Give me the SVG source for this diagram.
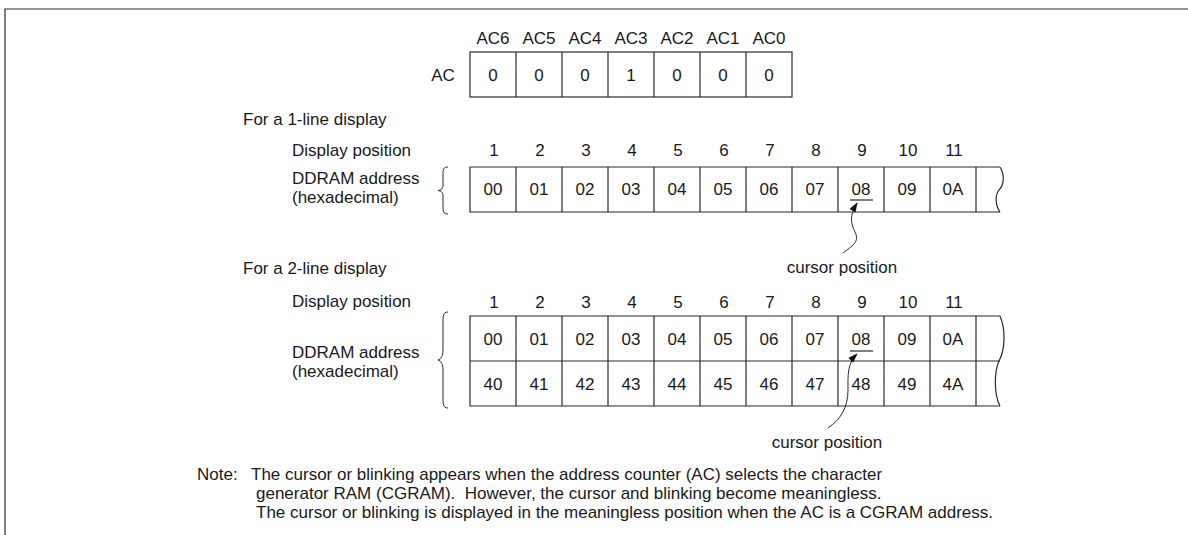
<svg xmlns="http://www.w3.org/2000/svg" width="1188" height="535" viewBox="0 0 1188 535">
<style>
text{font-family:"Liberation Sans",Arial,sans-serif;font-size:17px;fill:#1a1a1a}
.c{text-anchor:middle}
.ln{stroke:#2a2a2a;stroke-width:1.2;fill:none}
.th{stroke:#2a2a2a;stroke-width:1;fill:none}
</style>
<defs>
<marker id="ah" markerUnits="userSpaceOnUse" markerWidth="10" markerHeight="8" refX="9" refY="4" orient="auto">
<path d="M0,0.5 L10,4 L0,7.5 z" fill="#111"/>
</marker>
</defs>
<rect width="1188" height="535" fill="#fff"/>
<g id="frame">
<path class="ln" d="M5,535 V9 H1188"/>
</g>
<g id="ac-register">
<g class="c">
<text x="493" y="44">AC6</text><text x="539" y="44">AC5</text><text x="585" y="44">AC4</text><text x="631" y="44">AC3</text><text x="677" y="44">AC2</text><text x="723" y="44">AC1</text><text x="769" y="44">AC0</text>
<text x="443" y="81">AC</text>
<text x="493" y="81">0</text><text x="539" y="81">0</text><text x="585" y="81">0</text><text x="631" y="81">1</text><text x="677" y="81">0</text><text x="723" y="81">0</text><text x="769" y="81">0</text>
</g>
<rect class="ln" x="470" y="52" width="322" height="45"/>
<path class="ln" d="M516,52V97M562,52V97M608,52V97M654,52V97M700,52V97M746,52V97"/>
</g>
<g id="one-line-labels">
<text x="243" y="125">For a 1-line display</text>
<text x="292" y="156">Display position</text>
<text x="292" y="184">DDRAM address</text>
<text x="292" y="203">(hexadecimal)</text>
<path class="th" d="M448,167 C443,167 443,170 443,175 L443,185 C443,189 441,190 438,190.5 C441,191 443,192 443,196 L443,206 C443,211 443,214 448,214"/>
</g>
<g id="one-line-table">
<g class="c">
<text x="494" y="156">1</text><text x="540" y="156">2</text><text x="586" y="156">3</text><text x="632" y="156">4</text><text x="678" y="156">5</text><text x="724" y="156">6</text><text x="770" y="156">7</text><text x="816" y="156">8</text><text x="862" y="156">9</text><text x="908" y="156">10</text><text x="954" y="156">11</text>
<text x="493" y="195">00</text><text x="539" y="195">01</text><text x="585" y="195">02</text><text x="631" y="195">03</text><text x="677" y="195">04</text><text x="723" y="195">05</text><text x="769" y="195">06</text><text x="815" y="195">07</text><text x="861" y="195">08</text><text x="907" y="195">09</text><text x="953" y="195">0A</text>
</g>
<path class="ln" d="M1000,167H470V212H1000"/>
<path class="ln" d="M516,167V212M562,167V212M608,167V212M654,167V212M700,167V212M746,167V212M792,167V212M838,167V212M884,167V212M930,167V212M976,167V212"/>
<path class="ln" d="M1000,167 C1005,175 1004,185 999,190 C995,195 995,205 1000,212"/>
<path class="ln" d="M850,200H873"/>
</g>
<g id="cursor-label-1">
<text class="c" x="842" y="273">cursor position</text>
</g>
<g id="two-line-labels">
<text x="243" y="274">For a 2-line display</text>
<text x="292" y="307">Display position</text>
<text x="292" y="358">DDRAM address</text>
<text x="292" y="377">(hexadecimal)</text>
<path class="th" d="M448,312 C443,312 443,316 443,322 L443,350 C443,356 441,359 438,360 C441,361 443,364 443,370 L443,398 C443,404 443,408 448,408"/>
</g>
<g id="two-line-table">
<g class="c">
<text x="494" y="308">1</text><text x="540" y="308">2</text><text x="586" y="308">3</text><text x="632" y="308">4</text><text x="678" y="308">5</text><text x="724" y="308">6</text><text x="770" y="308">7</text><text x="816" y="308">8</text><text x="862" y="308">9</text><text x="908" y="308">10</text><text x="954" y="308">11</text>
<text x="493" y="345">00</text><text x="539" y="345">01</text><text x="585" y="345">02</text><text x="631" y="345">03</text><text x="677" y="345">04</text><text x="723" y="345">05</text><text x="769" y="345">06</text><text x="815" y="345">07</text><text x="861" y="345">08</text><text x="907" y="345">09</text><text x="953" y="345">0A</text>
<text x="493" y="390">40</text><text x="539" y="390">41</text><text x="585" y="390">42</text><text x="631" y="390">43</text><text x="677" y="390">44</text><text x="723" y="390">45</text><text x="769" y="390">46</text><text x="815" y="390">47</text><text x="861" y="390">48</text><text x="907" y="390">49</text><text x="953" y="390">4A</text>
</g>
<path class="ln" d="M1000,316H470V406H1000M470,361H1000"/>
<path class="ln" d="M516,316V406M562,316V406M608,316V406M654,316V406M700,316V406M746,316V406M792,316V406M838,316V406M884,316V406M930,316V406M976,316V406"/>
<path class="ln" d="M1000,316 C1006,330 1005,350 999,361 C994,372 994,395 1000,406"/>
<path class="ln" d="M850,351H873"/>
</g>
<g id="cursor-label-2">
<text class="c" x="827" y="448">cursor position</text>
</g>
<g id="connectors">
<path class="th" marker-end="url(#ah)" d="M843,253 C852,246 860,242 855,232 C850,222 850,215 857,203"/>
<path class="th" marker-end="url(#ah)" d="M828,428 C840,420 848,408 848,390 C848,375 847,364 857,354"/>
</g>
<g id="note">
<text x="197" y="480">Note:</text>
<text x="251" y="480">The cursor or blinking appears when the address counter (AC) selects the character</text>
<text x="256" y="499">generator RAM (CGRAM).&#160; However, the cursor and blinking become meaningless.</text>
<text x="256" y="518">The cursor or blinking is displayed in the meaningless position when the AC is a CGRAM address.</text>
</g>
</svg>
